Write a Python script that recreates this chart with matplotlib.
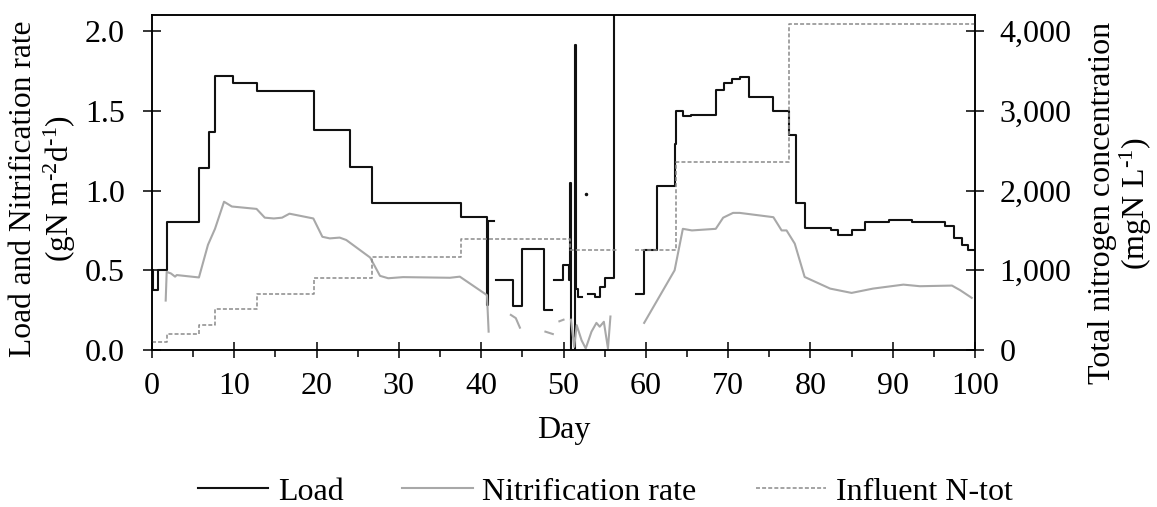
import numpy as np
import matplotlib
matplotlib.use("Agg")
import matplotlib.pyplot as plt
from matplotlib.ticker import MultipleLocator, StrMethodFormatter

nan = np.nan

# Load (gN m-2 d-1), drawn as steps
load_dias = [0.0, 0.1, 0.7, 1.8, 5.7, 6.9, 7.7, 9.8, 12.7, 19.7, 24.1, 26.7, 37.6, 40.7, 40.85, 41.5,
             41.8, 43.9, 44.9, 47.6, 48.6,
             48.9, 49.9, 50.7, 50.8, 50.95, 51.4, 51.55, 51.8, 52.3,
             53.0, 53.8, 54.4, 55.0, 56.1, 56.3,
             58.8, 59.8, 61.4, 63.5, 63.7, 64.5, 65.5, 68.5, 69.5, 70.5, 71.4, 72.5, 75.5, 77.4,
             78.3, 79.4, 82.5, 83.4, 85.0, 86.6, 89.6, 92.4, 96.4, 97.4, 98.4, 99.2, 100.0]
load_vals = [0.5, 0.375, 0.5, 0.8, 1.14, 1.37, 1.72, 1.675, 1.625, 1.38, 1.145, 0.925, 0.835, 0.28, 0.81, nan,
             0.4375, 0.275, 0.633, 0.25, nan,
             0.4375, 0.53, 0.44, 1.05, 0.0, 1.91, 0.385, 0.33, nan,
             0.35, 0.333, 0.396, 0.45, 2.5, nan,
             0.35, 0.63, 1.03, 1.29, 1.5, 1.47, 1.475, 1.63, 1.675, 1.70, 1.71, 1.59, 1.5, 1.35,
             0.92, 0.767, 0.75, 0.72, 0.75, 0.80, 0.817, 0.80, 0.78, 0.70, 0.656, 0.625, 0.625]
punto_dia = [52.7]
punto_val = [0.98]

# Nitrification rate (gN m-2 d-1)
nit_dias = [1.66, 1.78, 2.3, 2.8, 3.0, 5.7, 6.8, 7.65, 8.75, 9.7, 12.7, 13.7, 14.8, 15.8, 16.7, 19.6,
            20.7, 21.6, 22.8, 23.6, 26.5, 27.7, 28.7, 30.5, 36.2, 37.4, 40.7, 40.9, 41.0,
            43.6, 44.2, 44.7, 45.0, 47.8, 48.7, 49.0, 49.5, 50.0, 50.4,
            50.9, 51.3, 51.6, 52.2, 52.7, 53.4, 54.0, 54.4, 54.9, 55.4, 55.7, 57.0,
            59.8, 63.5, 64.5, 65.6, 68.5, 69.4, 70.6, 71.4, 75.5, 76.5, 77.1, 78.1, 79.3,
            82.4, 85.0, 87.6, 91.3, 93.3, 97.2, 98.2, 99.6]
nit_vals = [0.31, 0.49, 0.48, 0.46, 0.47, 0.455, 0.66, 0.76, 0.93, 0.90, 0.885, 0.83, 0.825, 0.83, 0.855, 0.825,
            0.71, 0.70, 0.705, 0.69, 0.58, 0.465, 0.45, 0.457, 0.453, 0.46, 0.344, 0.115, nan,
            0.22, 0.2, 0.14, nan, 0.115, 0.10, nan, 0.18, 0.19, nan,
            0.19, 0.02, 0.156, 0.06, 0.01, 0.115, 0.17, 0.146, 0.177, 0.01, 0.21, nan,
            0.17, 0.5, 0.76, 0.75, 0.76, 0.83, 0.86, 0.86, 0.833, 0.75, 0.75, 0.667, 0.458,
            0.385, 0.358, 0.385, 0.41, 0.40, 0.404, 0.375, 0.327]

# Influent N-tot (mgN L-1), steps
inf_dias = [0.0, 1.8, 5.7, 7.6, 12.7, 19.7, 26.7, 37.6, 50.8, 56.5, 58.7, 63.7, 77.4, 100.0]
inf_vals = [104, 200, 312, 512, 708, 904, 1167, 1392, 1258, nan, 1258, 2354, 4092, 4092]

plt.rcParams["font.family"] = ["Liberation Serif", "DejaVu Serif"]
plt.rcParams["mathtext.fontset"] = "custom"
plt.rcParams["mathtext.rm"] = "Liberation Serif"
plt.rcParams["mathtext.default"] = "regular"
plt.rcParams["font.size"] = 23

fig = plt.figure(figsize=(11.57, 5.07), dpi=100)
ax = fig.add_axes([0.1314, 0.3097, 0.7113, 0.6603])
ax2 = ax.twinx()

ax.plot(load_dias, load_vals, drawstyle="steps-post", color="#111111", lw=1.5, label="Load")
ax.plot(punto_dia, punto_val, marker="o", ms=1.5, color="#111111", ls="none")
ax.plot(nit_dias, nit_vals, color="#a8a8a8", lw=1.5, label="Nitrification rate")
ax2.plot(inf_dias, inf_vals, drawstyle="steps-post", color="#8a8a8a", lw=1.1,
         ls=(0, (2.6, 1.4)), label="Influent N-tot")

ax.set_xlim(0, 100)
ax.set_ylim(0, 2.1)
ax2.set_ylim(0, 4200)

ax.xaxis.set_major_locator(MultipleLocator(10))
ax.xaxis.set_minor_locator(MultipleLocator(5))
ax.yaxis.set_major_locator(MultipleLocator(0.5))
ax.yaxis.set_major_formatter(StrMethodFormatter("{x:.1f}"))
ax2.yaxis.set_major_locator(MultipleLocator(1000))
ax2.yaxis.set_major_formatter(StrMethodFormatter("{x:,.0f}"))

ax.tick_params(axis="x", which="major", direction="inout", length=12, width=1.1, pad=10)
ax.tick_params(axis="x", which="minor", direction="out", length=5, width=1.1)
ax.tick_params(axis="y", direction="inout", length=13, width=1.1, pad=13)
ax2.tick_params(axis="y", direction="inout", length=13, width=1.1, pad=11)
for a in (ax, ax2):
    for s in a.spines.values():
        s.set_linewidth(1.1)

ax.set_xlabel("Day", labelpad=11)
ax.set_ylabel("Load and Nitrification rate\n(gN m$^{\\text{-}2}$d$^{\\text{-}1}$)", fontsize=22.7,
              linespacing=1.15)
ax.yaxis.set_label_coords(-0.090, 0.481)
ax2.set_ylabel("Total nitrogen concentration\n(mgN L$^{\\text{-}1}$)", fontsize=23,
               linespacing=1.05)
ax2.yaxis.set_label_coords(1.137, 0.439)

h1, l1 = ax.get_legend_handles_labels()
h2, l2 = ax2.get_legend_handles_labels()
fig.legend(h1 + h2, l1 + l2, loc="center", bbox_to_anchor=(0.523, 0.0296), ncol=3,
           frameon=False, fontsize=23, handlelength=2.2, columnspacing=1.85, handletextpad=0.3)

fig.savefig("out.png", dpi=100)
